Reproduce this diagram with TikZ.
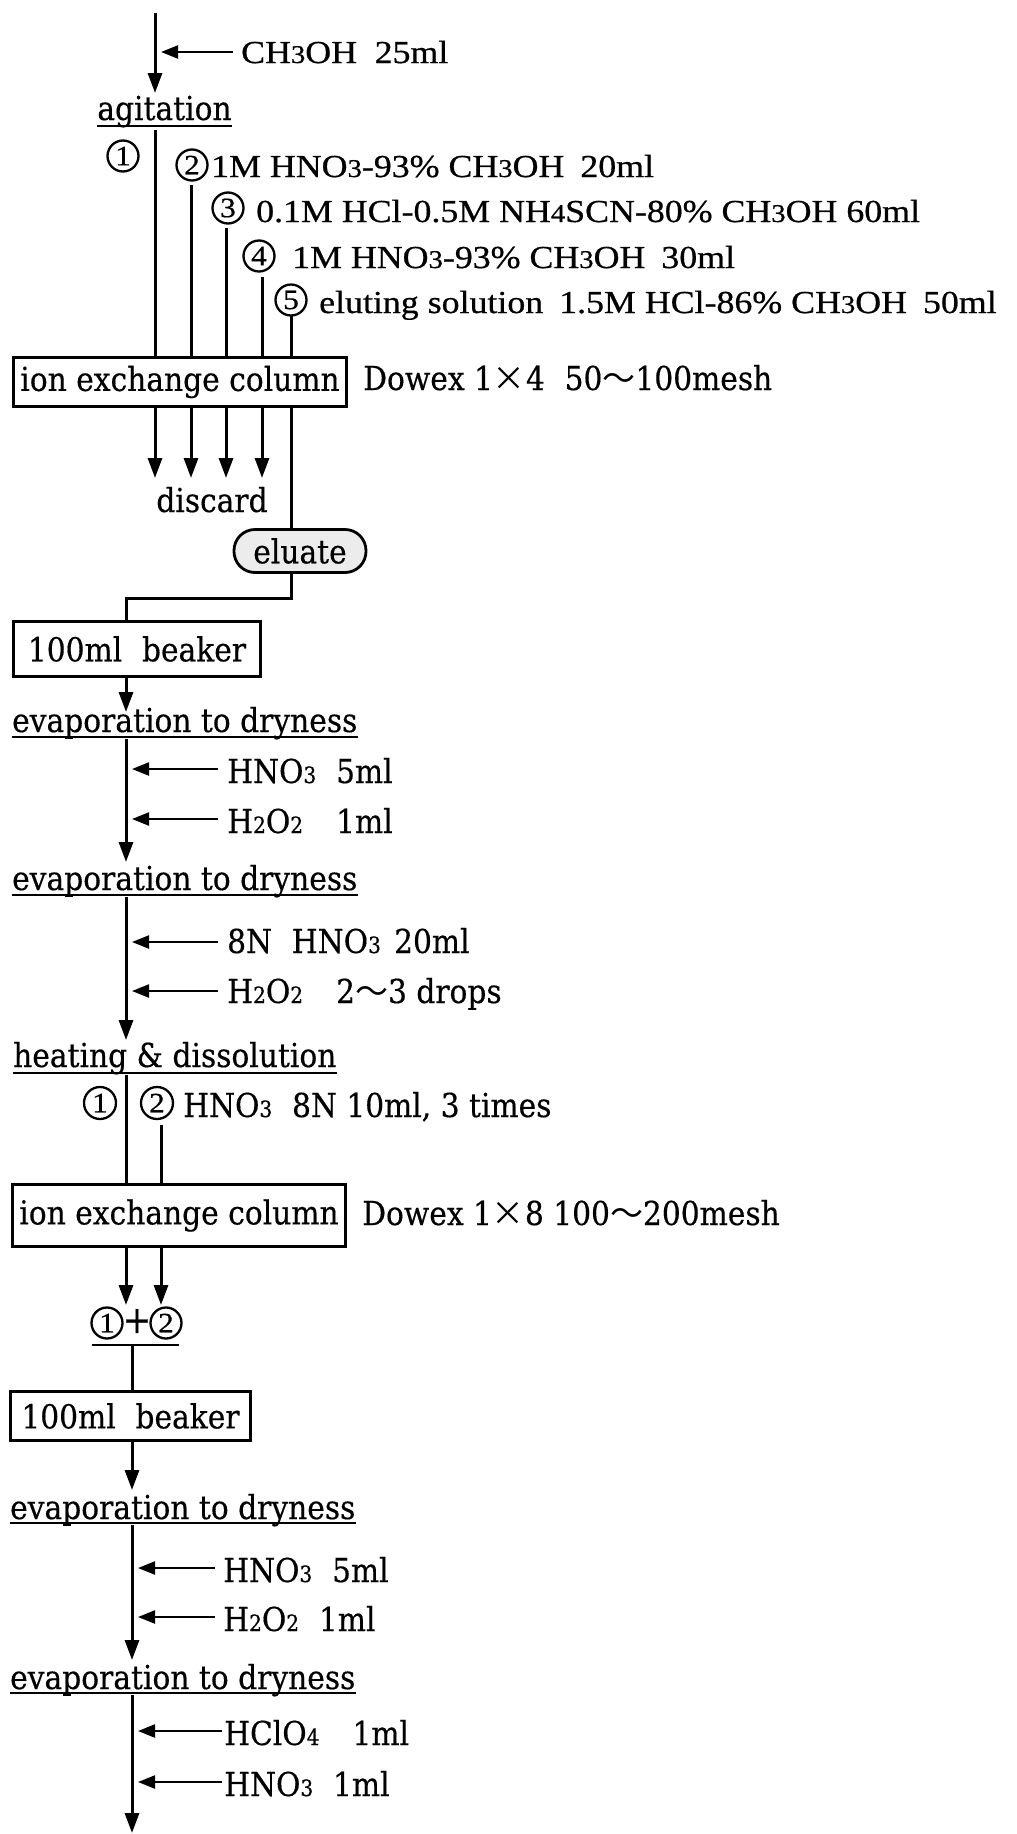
\documentclass[tikz,border=0pt]{standalone}
\usepackage{fontspec}
\setmainfont{DejaVu Serif}[FakeStretch=0.9,FakeBold=0.4]
\newfontfamily\mincho{Liberation Serif}[FakeStretch=1.12,FakeBold=0.6]
\newfontfamily\cjk{Noto Sans CJK JP}
\usetikzlibrary{arrows.meta,calc}
\newcommand\wsub[1]{\scalebox{0.68}{#1}}
\newcommand\msub[1]{\scalebox{0.8}{#1}}
\newcommand\tms{{\cjk ×}}
\newcommand\wave{{\cjk ～}}
\begin{document}
\begin{tikzpicture}[x=1pt,y=-1pt,
  wtxt/.style={inner sep=0pt, font=\fontsize{33}{36}\selectfont},
  mtxt/.style={inner sep=0pt, font=\mincho\fontsize{32}{36}\selectfont},
  flow/.style={line width=3pt},
  flowarr/.style={line width=3pt, -{Triangle[length=20pt,width=14pt]}},
  addarr/.style={line width=2.2pt, shorten >=6pt, -{Triangle[length=17pt,width=13pt]}},
  boxnode/.style={draw, line width=3.2pt, inner sep=0pt, font=\fontsize{33}{36}\selectfont},
  elubox/.style={draw, line width=2.8pt, rounded corners=21pt, fill=gray!15, inner sep=0pt,
    minimum width=132pt, minimum height=43pt, font=\fontsize{33}{36}\selectfont},
  cnum/.style={draw, circle, line width=2.3pt, inner sep=0pt, minimum size=31pt,
    font=\mincho\fontsize{28}{28}\selectfont},
  uline/.style={line width=2.4pt}]
\useasboundingbox (0,0) rectangle (1017,1834);

% ---------- top section ----------
\coordinate (t0) at (155,13);
\coordinate (t1) at (155,93);
\node[wtxt,anchor=base] (agit) at (164.5,120) {agitation};
\draw[flowarr] (t0) -- (t1);
\node[mtxt,anchor=base west] (r0) at (241,63) {CH\msub{3}OH\hspace{0.55em}25ml};
\coordinate (r0t) at (233,52);
\draw[addarr] (r0t) -- (r0t -| t0);
\draw[uline] ([yshift=-6pt]agit.base west) -- ([yshift=-6pt]agit.base east);

\node[cnum] (c1) at (123,156) {1};
\node[cnum] (c2) at (192,165) {2};
\node[mtxt,anchor=base west] (r2) at (211,177) {1M HNO\msub{3}-93\% CH\msub{3}OH\hspace{0.5em}20ml};
\node[cnum] (c3) at (228,208) {3};
\node[mtxt,anchor=base west] (r3) at (256,222) {0.1M HCl-0.5M NH\msub{4}SCN-80\% CH\msub{3}OH 60ml};
\node[cnum] (c4) at (259,256) {4};
\node[mtxt,anchor=base west] (r4) at (292,268) {1M HNO\msub{3}-93\% CH\msub{3}OH\hspace{0.5em}30ml};
\node[cnum] (c5) at (291,300) {5};
\node[mtxt,anchor=base west] (r5) at (319,313) {eluting solution\hspace{0.5em}1.5M HCl-86\% CH\msub{3}OH\hspace{0.5em}50ml};

% ---------- first column ----------
\node[boxnode,minimum width=333pt,minimum height=49pt] (col1) at (180,382) {ion exchange column};
\node[wtxt,anchor=base west] (dw1) at (363,390) {Dowex 1\tms 4\hspace{0.6em}50\wave 100mesh};
\coordinate (s1) at (155,130);
\coordinate (s2) at (191,185);
\coordinate (s3) at (226,228);
\coordinate (s4) at (262,277);
\coordinate (s5) at (291,315);
\foreach \i in {1,...,5} \draw[flow] (s\i) -- (s\i |- col1.north);
\coordinate (dtip) at (0,478);
\foreach \i in {1,...,4} \draw[flowarr] (s\i |- col1.south) -- (s\i |- dtip);
\node[wtxt,anchor=base] (disc) at (212,512) {discard};
\node[elubox] (elu) at (300,551) {eluate};
\draw[flow] (s5 |- col1.south) -- (s5 |- elu.north);

\node[boxnode,minimum width=247pt,minimum height=55pt] (beak1) at (137,649) {100ml\hspace{0.6em}beaker};
\coordinate (turn) at (126,598);
\draw[flow] (s5 |- elu.south) -- (s5 |- turn) -- (turn) -- (turn |- beak1.north);

% ---------- evaporation 1, 2 ----------
\coordinate (e1) at (126,712);
\draw[flowarr] (turn |- beak1.south) -- (e1);
\node[wtxt,anchor=base west] (ev1) at (12,732) {evaporation to dryness};
\draw[uline] ([yshift=-5pt]ev1.base west) -- ([yshift=-5pt]ev1.base east);
\coordinate (m1a) at (126,739);
\coordinate (m1b) at (126,862);
\draw[flowarr] (m1a) -- (m1b);
\node[wtxt,anchor=base west] (a1) at (227,783) {HNO\wsub{3}\hspace{0.6em}5ml};
\coordinate (a1t) at (218,769);
\draw[addarr] (a1t) -- (a1t -| m1a);
\node[wtxt,anchor=base west] (a2) at (227,833) {H\wsub{2}O\wsub{2}\hspace{1em}1ml};
\coordinate (a2t) at (218,819);
\draw[addarr] (a2t) -- (a2t -| m1a);

\node[wtxt,anchor=base west] (ev2) at (12,890) {evaporation to dryness};
\draw[uline] ([yshift=-5pt]ev2.base west) -- ([yshift=-5pt]ev2.base east);
\coordinate (m2a) at (126,897);
\coordinate (m2b) at (126,1040);
\draw[flowarr] (m2a) -- (m2b);
\node[wtxt,anchor=base west] (a3) at (227,953) {8N\hspace{0.6em}HNO\wsub{3}\hspace{0.4em}20ml};
\coordinate (a3t) at (218,942);
\draw[addarr] (a3t) -- (a3t -| m2a);
\node[wtxt,anchor=base west] (a4) at (227,1003) {H\wsub{2}O\wsub{2}\hspace{1em}2\wave 3 drops};
\coordinate (a4t) at (218,991);
\draw[addarr] (a4t) -- (a4t -| m2a);

\node[wtxt,anchor=base west] (heat) at (13,1067) {heating \& dissolution};
\draw[uline] ([yshift=-6pt]heat.base west) -- ([yshift=-6pt]heat.base east);

% ---------- second column ----------
\node[boxnode,minimum width=333pt,minimum height=62pt] (col2) at (179,1215.5) {ion exchange column};
\node[wtxt,anchor=base west] (dw2) at (362,1225) {Dowex 1\tms 8 100\wave 200mesh};
\node[cnum,minimum size=32pt] (d1) at (100,1103) {1};
\node[cnum,minimum size=32pt] (d2) at (157,1103) {2};
\node[wtxt,anchor=base west] (h2) at (183,1117) {HNO\wsub{3}\hspace{0.6em}8N 10ml, 3 times};
\coordinate (u1) at (126,1075);
\coordinate (u2) at (161,1125);
\draw[flow] (u1) -- (u1 |- col2.north);
\draw[flow] (u2) -- (u2 |- col2.north);
\coordinate (jt) at (0,1305);
\draw[flowarr] (u1 |- col2.south) -- (u1 |- jt);
\draw[flowarr] (u2 |- col2.south) -- (u2 |- jt);
\node[cnum] (j1) at (107,1323) {1};
\node[inner sep=0pt, font=\fontsize{38}{38}\selectfont] (plus) at (137,1321) {+};
\node[cnum] (j2) at (166,1323) {2};
\draw[uline] ([xshift=-3.5pt,yshift=-5.5pt]j1.south west |- j1.south) -- ([xshift=1.5pt,yshift=-5.5pt]j2.south east |- j2.south);

\node[boxnode,minimum width=240pt,minimum height=49pt] (beak2) at (130.5,1416) {100ml\hspace{0.6em}beaker};
\coordinate (v0) at (132,1346);
\draw[flow] (v0) -- (v0 |- beak2.north);

% ---------- evaporation 3, 4 ----------
\coordinate (e3) at (132,1490);
\draw[flowarr] (v0 |- beak2.south) -- (e3);
\node[wtxt,anchor=base west] (ev3) at (10,1519) {evaporation to dryness};
\draw[uline] ([yshift=-4pt]ev3.base west) -- ([yshift=-4pt]ev3.base east);
\coordinate (m3a) at (132,1525);
\coordinate (m3b) at (132,1660);
\draw[flowarr] (m3a) -- (m3b);
\node[wtxt,anchor=base west] (a5) at (223,1582) {HNO\wsub{3}\hspace{0.6em}5ml};
\coordinate (a5t) at (215,1568);
\draw[addarr] (a5t) -- (a5t -| m3a);
\node[wtxt,anchor=base west] (a6) at (223,1631) {H\wsub{2}O\wsub{2}\hspace{0.6em}1ml};
\coordinate (a6t) at (215,1617);
\draw[addarr] (a6t) -- (a6t -| m3a);

\node[wtxt,anchor=base west] (ev4) at (10,1689) {evaporation to dryness};
\draw[uline] ([yshift=-4pt]ev4.base west) -- ([yshift=-4pt]ev4.base east);
\coordinate (m4a) at (132,1695);
\coordinate (m4b) at (132,1833);
\draw[flowarr] (m4a) -- (m4b);
\node[wtxt,anchor=base west] (a7) at (224,1745) {HClO\wsub{4}\hspace{1em}1ml};
\coordinate (a7t) at (222,1731);
\draw[addarr] (a7t) -- (a7t -| m4a);
\node[wtxt,anchor=base west] (a8) at (224,1796) {HNO\wsub{3}\hspace{0.6em}1ml};
\coordinate (a8t) at (222,1782);
\draw[addarr] (a8t) -- (a8t -| m4a);
\end{tikzpicture}
\end{document}
